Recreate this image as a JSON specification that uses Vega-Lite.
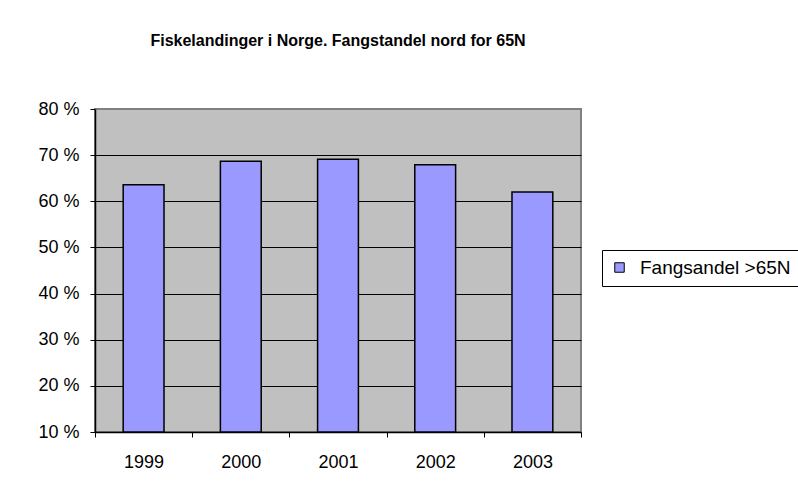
{
  "$schema": "https://vega.github.io/schema/vega-lite/v6.json",
  "autosize": "none",
  "width": 486,
  "height": 323,
  "padding": {"left": 95, "top": 109, "right": 217, "bottom": 66},
  "background": "white",
  "title": {
    "text": "Fiskelandinger i Norge. Fangstandel nord for 65N",
    "font": "Liberation Sans",
    "fontSize": 16,
    "fontWeight": "bold",
    "color": "black",
    "anchor": "middle",
    "baseline": "alphabetic",
    "offset": 38
  },
  "data": {
    "values": [
      {"year": "1999", "share": 63.6, "series": "Fangsandel >65N"},
      {"year": "2000", "share": 68.7, "series": "Fangsandel >65N"},
      {"year": "2001", "share": 69.1, "series": "Fangsandel >65N"},
      {"year": "2002", "share": 67.9, "series": "Fangsandel >65N"},
      {"year": "2003", "share": 62.0, "series": "Fangsandel >65N"}
    ]
  },
  "mark": {"type": "bar", "width": {"band": 0.42}, "stroke": "black", "strokeWidth": 1.5},
  "encoding": {
    "x": {
      "field": "year",
      "type": "ordinal",
      "scale": {"paddingInner": 0, "paddingOuter": 0},
      "axis": {
        "title": null,
        "labelAngle": 0,
        "labelFont": "Liberation Sans",
        "labelFontSize": 18,
        "labelColor": "black",
        "domainColor": "black",
        "domainWidth": 1.5,
        "tickColor": "black",
        "tickSize": 5,
        "tickBand": "extent",
        "labelPadding": 16,
        "grid": false
      }
    },
    "y": {
      "field": "share",
      "type": "quantitative",
      "scale": {"domain": [10, 80], "zero": false, "nice": false},
      "axis": {
        "title": null,
        "values": [10, 20, 30, 40, 50, 60, 70, 80],
        "labelExpr": "datum.value + ' %'",
        "labelFont": "Liberation Sans",
        "labelFontSize": 18,
        "labelColor": "black",
        "labelPadding": 11,
        "tickSize": 5,
        "tickColor": "black",
        "domainColor": "black",
        "domainWidth": 1.5,
        "grid": true,
        "gridColor": "black",
        "gridOpacity": {"condition": {"test": "datum.value == 80", "value": 0}, "value": 1},
        "gridWidth": 1
      }
    },
    "y2": {"datum": 10},
    "color": {
      "field": "series",
      "type": "nominal",
      "scale": {"range": ["#9999FF"]},
      "legend": {
        "orient": "none",
        "legendX": 507,
        "legendY": 141,
        "title": null,
        "symbolType": "square",
        "symbolSize": 90,
        "symbolStrokeColor": "black",
        "symbolStrokeWidth": 1,
        "labelFont": "Liberation Sans",
        "labelFontSize": 19,
        "labelColor": "black",
        "strokeColor": "black",
        "fillColor": "white",
        "padding": 8,
        "labelOffset": 11
      }
    }
  },
  "config": {"view": {"fill": "#C0C0C0", "stroke": "#808080", "strokeWidth": 2}}
}
